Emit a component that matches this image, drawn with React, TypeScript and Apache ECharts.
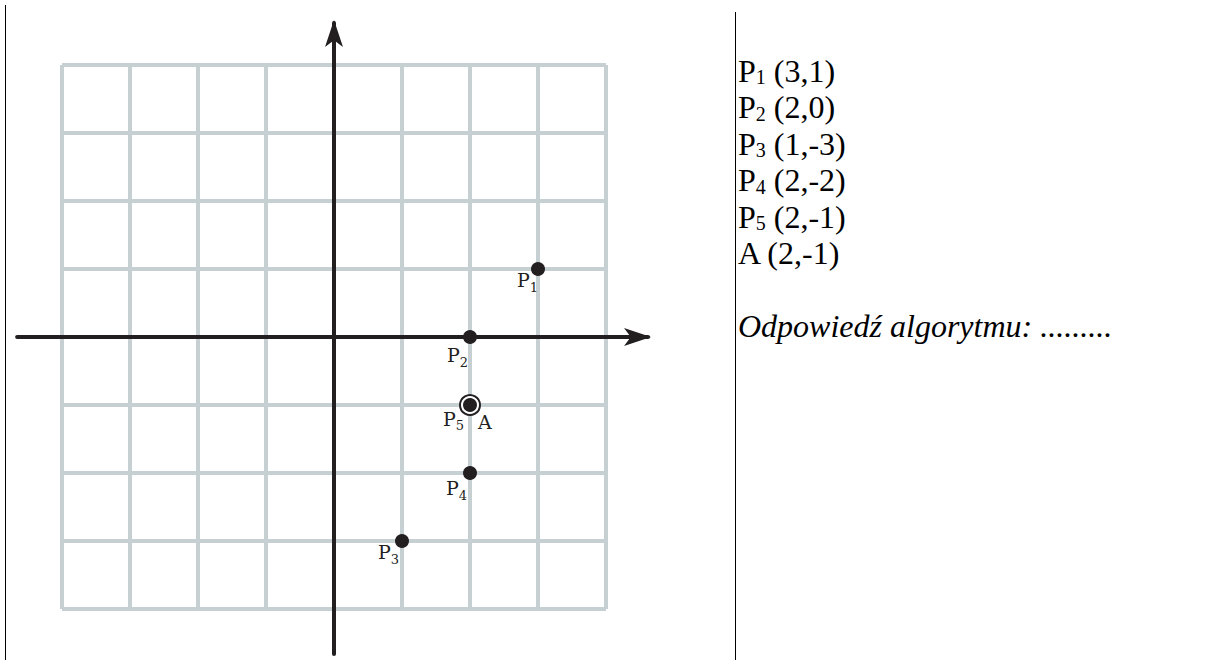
import React, { useEffect, useRef } from 'react';
import * as echarts from 'echarts';

// ---- data ----
const POINT_NAMES = ['P1', 'P2', 'P3', 'P4', 'P5'];
const POINT_X = [3, 2, 1, 2, 2];
const POINT_Y = [1, 0, -3, -2, -1];
const QUERY_NAME = 'A';
const QUERY_X = 2;
const QUERY_Y = -1;
const LATTICE_MIN = -4;
const LATTICE_MAX = 4;
const LATTICE_STEP = 1;
const AXIS_MIN = -4.66;
const AXIS_MAX = 4.618;
const ANSWER_TEXT = 'Odpowiedź algorytmu: .........';

// ---- styles ----
const INK = '#231f20';
const LATTICE = '#c6cfd1';
const LABEL_FONT = 'DejaVu Serif, serif';
const TEXT_FONT = 'Liberation Serif, serif';

// label placement per point name: [dx, dy, align]
const LABEL_PLACEMENT: Record<string, [number, number, 'left' | 'right']> = {
  P1: [0, -1, 'right'],
  P2: [-2, 6, 'right'],
  P3: [-3, -1, 'right'],
  P4: [-3, 3, 'right'],
  P5: [-6, 1.5, 'right'],
  A: [8, 4.5, 'left'],
};

function labelText(name: string): string {
  const head = name.charAt(0);
  const sub = name.slice(1);
  return sub ? `{p|${head}}{s|${sub}}` : `{p|${head}}`;
}

const labelRich = {
  p: { fontFamily: LABEL_FONT, fontSize: 19, lineHeight: 24, color: INK },
  s: { fontFamily: LABEL_FONT, fontSize: 13, lineHeight: 24, color: INK, padding: [14, 0, 0, 0] },
};

function labelFor(name: string) {
  const [dx, dy, align] = LABEL_PLACEMENT[name];
  return {
    show: true,
    position: 'inside',
    align,
    verticalAlign: 'top',
    offset: [dx, dy],
    formatter: labelText(name),
    rich: labelRich,
  };
}

function buildOption() {
  const listLines = POINT_NAMES.map(
    (n, i) => `{p|${n.charAt(0)}}{s|${n.slice(1)}}{p| (${POINT_X[i]},${POINT_Y[i]})}`
  );
  listLines.push(`{p|${QUERY_NAME} (${QUERY_X},${QUERY_Y})}`);

  const hiddenAxisBits = {
    axisTick: { show: false },
    axisLabel: { show: false },
  };

  const arrowAxis = (gridIndex: number) => ({
    type: 'value', gridIndex, min: AXIS_MIN, max: AXIS_MAX, z: 1,
    axisLine: {
      show: true, onZero: true, symbol: ['none', 'arrow'], symbolSize: [13.5, 27], symbolOffset: [0, 3],
      lineStyle: { color: INK, width: 4 },
    },
    splitLine: { show: false },
    ...hiddenAxisBits,
  });

  const latticeAxis = (gridIndex: number) => ({
    type: 'value', gridIndex, min: LATTICE_MIN, max: LATTICE_MAX, interval: LATTICE_STEP, z: 0,
    axisLine: { show: false },
    splitLine: { show: true, lineStyle: { color: LATTICE, width: 4 } },
    ...hiddenAxisBits,
  });

  return {
    animation: false,
    backgroundColor: '#ffffff',
    grid: [
      { left: 62, top: 65, width: 544, height: 544 },
      { left: 17.12, top: 22.98, width: 630.9, height: 630.9 },
    ],
    xAxis: [latticeAxis(0), arrowAxis(1)],
    yAxis: [latticeAxis(0), arrowAxis(1)],
    series: [
      {
        type: 'scatter',
        name: QUERY_NAME,
        xAxisIndex: 0,
        yAxisIndex: 0,
        z: 4,
        symbol: 'circle',
        symbolSize: 20,
        itemStyle: { color: '#ffffff', borderColor: INK, borderWidth: 2, opacity: 1 },
        emphasis: { disabled: true },
        data: [{ name: QUERY_NAME, value: [QUERY_X, QUERY_Y], label: labelFor(QUERY_NAME) }],
      },
      {
        type: 'scatter',
        name: 'P',
        xAxisIndex: 0,
        yAxisIndex: 0,
        z: 5,
        symbol: 'circle',
        symbolSize: 14,
        itemStyle: { color: INK, opacity: 1 },
        emphasis: { disabled: true },
        data: POINT_NAMES.map((n, i) => ({ name: n, value: [POINT_X[i], POINT_Y[i]], label: labelFor(n) })),
      },
    ],
    graphic: [
      { type: 'line', shape: { x1: 5.5, y1: 5, x2: 5.5, y2: 660 }, style: { stroke: '#000', lineWidth: 1 } },
      { type: 'line', shape: { x1: 735.5, y1: 12, x2: 735.5, y2: 660 }, style: { stroke: '#000', lineWidth: 1 } },
      {
        type: 'text',
        x: 738,
        y: 52.7,
        style: {
          text: listLines.join('\n'),
          verticalAlign: 'top',
          fill: '#000',
          rich: {
            p: { fontFamily: TEXT_FONT, fontSize: 32, lineHeight: 36.5, fill: '#000' },
            s: { fontFamily: TEXT_FONT, fontSize: 20, lineHeight: 36.5, fill: '#000', padding: [13, 0, 0, 0] },
          },
        },
      },
      {
        type: 'text',
        x: 738,
        y: 326.2,
        style: {
          text: ANSWER_TEXT,
          fontFamily: TEXT_FONT,
          fontSize: 32,
          fontStyle: 'italic',
          verticalAlign: 'middle',
          fill: '#000',
        },
      },
    ],
  };
}

export default function App() {
  const ref = useRef<HTMLDivElement>(null);
  useEffect(() => {
    const chart = echarts.init(ref.current!, null, { renderer: 'svg' });
    chart.setOption(buildOption() as any);
    return () => chart.dispose();
  }, []);
  return (
    <div
      ref={ref}
      style={{ position: 'absolute', left: 0, top: 0, width: 1219, height: 660, background: '#fff' }}
    />
  );
}
